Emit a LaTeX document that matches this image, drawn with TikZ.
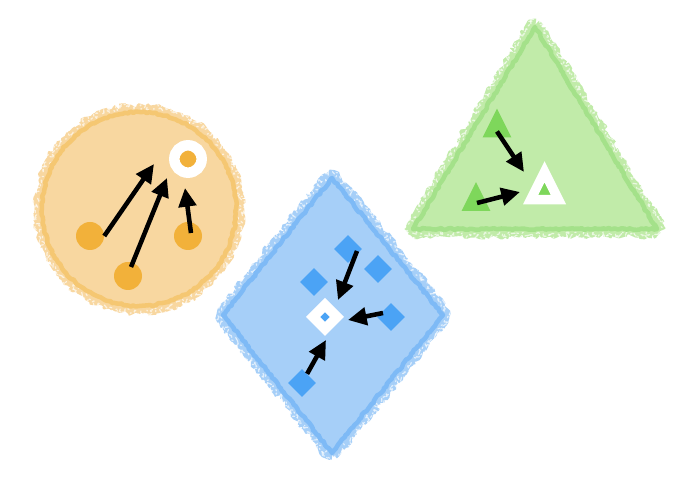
\documentclass[tikz,border=0pt]{standalone}
\usetikzlibrary{arrows.meta,calc,shapes.geometric,decorations.pathmorphing}
\begin{document}
\begin{tikzpicture}[x=0.75pt,y=-0.75pt,line cap=round,line join=round]
  % ----- styles & colors -----
  \definecolor{orgfill}{RGB}{248,215,160}
  \definecolor{orgline}{RGB}{245,199,114}
  \definecolor{orgdot}{RGB}{242,177,58}
  \definecolor{blufill}{RGB}{166,207,248}
  \definecolor{bluline}{RGB}{126,186,246}
  \definecolor{bludot}{RGB}{75,163,245}
  \definecolor{grnfill}{RGB}{193,235,169}
  \definecolor{grnline}{RGB}{164,225,138}
  \definecolor{grndot}{RGB}{126,215,91}
  \tikzset{
    rough/.style={decorate,decoration={random steps,segment length=1pt,amplitude=1.8pt}},
    rim/.style={rough,line width=12.5pt,line join=bevel},
    edge/.style={decorate,decoration={random steps,segment length=2pt,amplitude=0.7pt},line width=3.4pt},
    specks/.style={draw=white,opacity=0.65,line width=0.9pt,rough,
      dash pattern=on 1.5pt off 4pt on 3pt off 7pt on 1pt off 5pt},
    arr/.style={draw=black,line width=3.4pt,line cap=butt,-{Triangle[length=14pt,width=13pt]}},
    dot/.style={circle,fill=orgdot,inner sep=0pt,minimum size=21pt},
    gem/.style={diamond,aspect=1,fill=bludot,inner sep=0pt,minimum size=21pt},
    tri/.style={isosceles triangle,isosceles triangle stretches,shape border rotate=90,
      fill=grndot,inner sep=0pt,minimum width=21.5pt,minimum height=21.5pt},
    target/.style={draw=white,line join=miter}
  }
  \pgfmathsetseed{11}
  \useasboundingbox (0,0) rectangle (687,488);

  % ----- geometry -----
  \def\dia{(332,178) -- (443,315) -- (332,453) -- (223,315) -- cycle}
  \def\trg{(535,27) -- (657,229) -- (413,229) -- cycle}

  % ----- orange circle -----
  \coordinate (C) at (139,209);
  \fill[orgfill] (C) circle (97);
  \draw[orgfill,rim] (C) circle (97);
  \draw[specks] (C) circle (102);
  \draw[specks,dash phase=4pt] (C) circle (105);
  \draw[orgline,edge] (C) circle (97);

  \node[dot] (o1) at (90,236) {};
  \node[dot] (o2) at (128,276) {};
  \node[dot] (o3) at (188,236) {};
  \node[dot,target,line width=7.9pt,minimum size=20.5pt] (oT) at (188,159) {};

  \coordinate (o1h) at (154,164);
  \coordinate (o2h) at (167,178);
  \coordinate (o3h) at (185,188);
  \draw[arr] (o1.east) -- (o1h);
  \draw[arr] ($(o2)+(3,-9)$) -- (o2h);
  \draw[arr] ($(o3)+(3,-3)$) -- (o3h);

  % ----- blue diamond -----
  \fill[blufill] \dia;
  \draw[blufill,rim] \dia;
  \draw[specks,scale around={1.06:(332,315)}] \dia;
  \draw[specks,dash phase=4pt,scale around={1.09:(332,315)}] \dia;
  \draw[bluline,edge] \dia;

  \node[gem] (d1) at (348,249) {};
  \node[gem] (d2) at (378,269) {};
  \node[gem] (d3) at (314,282) {};
  \node[gem] (d4) at (391,317) {};
  \node[gem] (d5) at (302,383) {};
  \node[gem,target,line width=7.5pt] (dT) at (325,317) {};

  \coordinate (d1h) at (338,300);
  \coordinate (d4h) at (348,320);
  \coordinate (d5h) at (326,340);
  \draw[arr] ($(d1)+(9,2)$) -- (d1h);
  \draw[arr] ($(d4)+(-8,-4)$) -- (d4h);
  \draw[arr] (d5) -- (d5h);

  % ----- green triangle -----
  \fill[grnfill] \trg;
  \draw[grnfill,rim] \trg;
  \draw[specks,scale around={1.075:(535,160)}] \trg;
  \draw[specks,dash phase=4pt,scale around={1.11:(535,160)}] \trg;
  \draw[grnline,edge] \trg;

  \node[tri] (t1) at (497,128.5) {};
  \node[tri] (t2) at (476,202) {};
  \node[tri,target,line width=7.1pt,minimum width=20.8pt,minimum height=20.8pt] (tT) at (544.5,191) {};

  \coordinate (t1h) at (524,172);
  \coordinate (t2h) at (520,192);
  \draw[arr] ($(t1)+(0,3)$) -- (t1h);
  \draw[arr] ($(t2)+(1,1)$) -- (t2h);

\end{tikzpicture}
\end{document}
